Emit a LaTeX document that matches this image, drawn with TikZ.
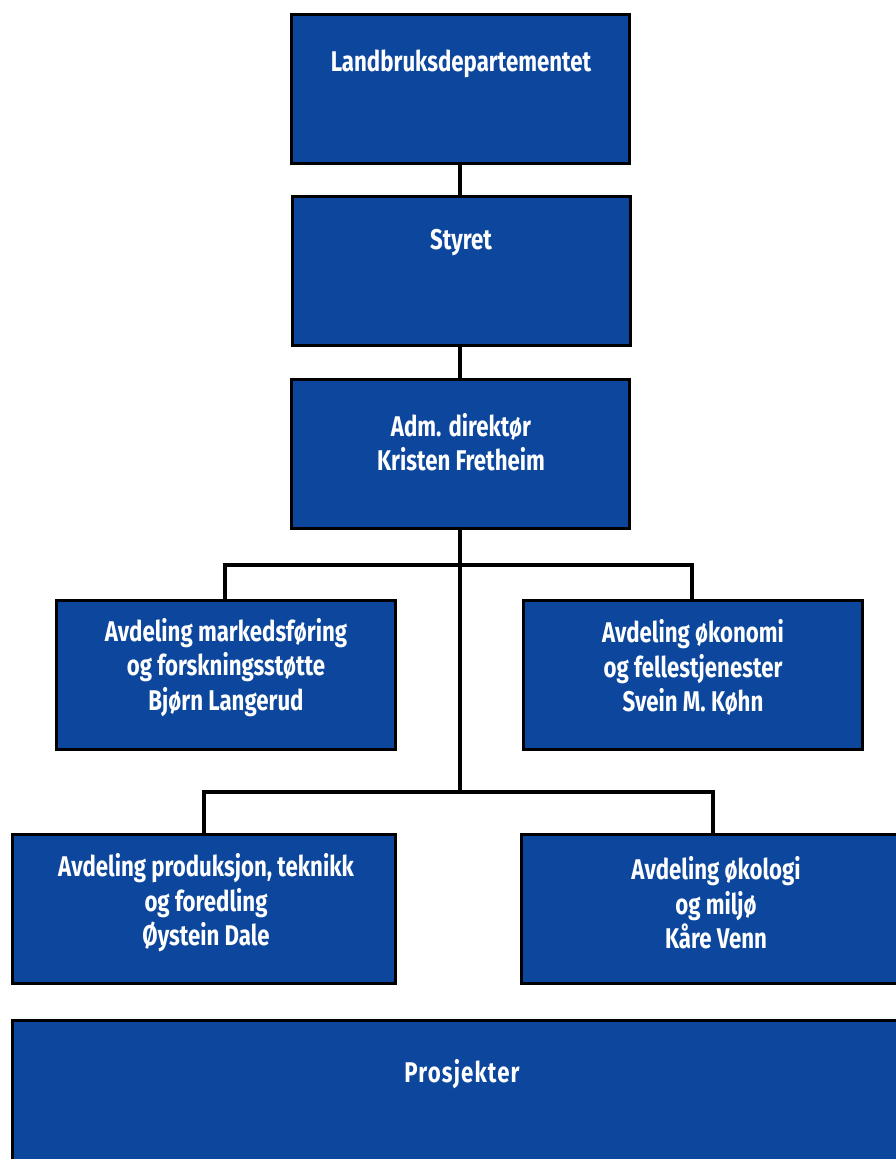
\documentclass[tikz,border=0pt]{standalone}
\usepackage{fontspec}
\setmainfont{Fira Sans}[FakeStretch=0.78]
\definecolor{boxblue}{RGB}{12,71,157}
\tikzset{
  box/.style={draw=black, fill=boxblue, line width=3pt, rectangle, inner sep=0pt},
  lbl/.style={text=white, align=center, inner sep=0pt, font=\bfseries\fontsize{28.5}{34.5}\selectfont},
  conn/.style={draw=black, line width=4.5pt}
}
\begin{document}
\begin{tikzpicture}[x=1pt,y=-1pt]
\useasboundingbox (0,0) rectangle (895,1159);
% boxes
\node[box, minimum width=338pt, minimum height=149pt] (ld) at (460,88.5) {};
\node[box, minimum width=338pt, minimum height=149pt] (st) at (461,270.5) {};
\node[box, minimum width=338pt, minimum height=149pt] (ad) at (460,453.5) {};
\node[box, minimum width=339pt, minimum height=149pt] (ma) at (225.5,674.5) {};
\node[box, minimum width=339pt, minimum height=149pt] (ok) at (692.5,674.5) {};
\node[box, minimum width=383pt, minimum height=149pt] (pr) at (203.5,908.5) {};
\node[box, minimum width=390pt, minimum height=149pt] (el) at (716,908.5) {};
\node[box, minimum width=900pt, minimum height=160pt] (pj) at (462,1100) {};
% labels
\node[lbl] (tld) at (461,64) {Landbruksdepartementet};
\node[lbl] (tst) at (461,243) {Styret};
\node[lbl] (tad) at (461,442) {Adm. direktør\\Kristen Fretheim};
\node[lbl] (tma) at (226,667.5) {Avdeling markedsføring\\og forskningsstøtte\\Bjørn Langerud};
\node[lbl] (tok) at (693,667.5) {Avdeling økonomi\\og fellestjenester\\Svein M. Køhn};
\node[lbl] (tpr) at (206,903) {Avdeling produksjon, teknikk\\og foredling\\Øystein Dale};
\node[lbl] (tel) at (716,903) {Avdeling økologi\\og miljø\\Kåre Venn};
\node[lbl] (tpj) at (462,1074) {\addfontfeature{LetterSpace=4}Prosjekter};
% connectors
\coordinate (j1) at (460,565);
\coordinate (j2) at (460,792);
\draw[conn] (ld.south -| 460,0) -- (st.north -| 460,0);
\draw[conn] (st.south -| 460,0) -- (ad.north -| 460,0);
\draw[conn] (ad.south -| 460,0) -- (j2);
\draw[conn] (ma.north -| 225,0) |- (j1) -| (ok.north -| 692,0);
\draw[conn] (pr.north -| 204,0) |- (j2) -| (el.north -| 713,0);
\end{tikzpicture}
\end{document}
